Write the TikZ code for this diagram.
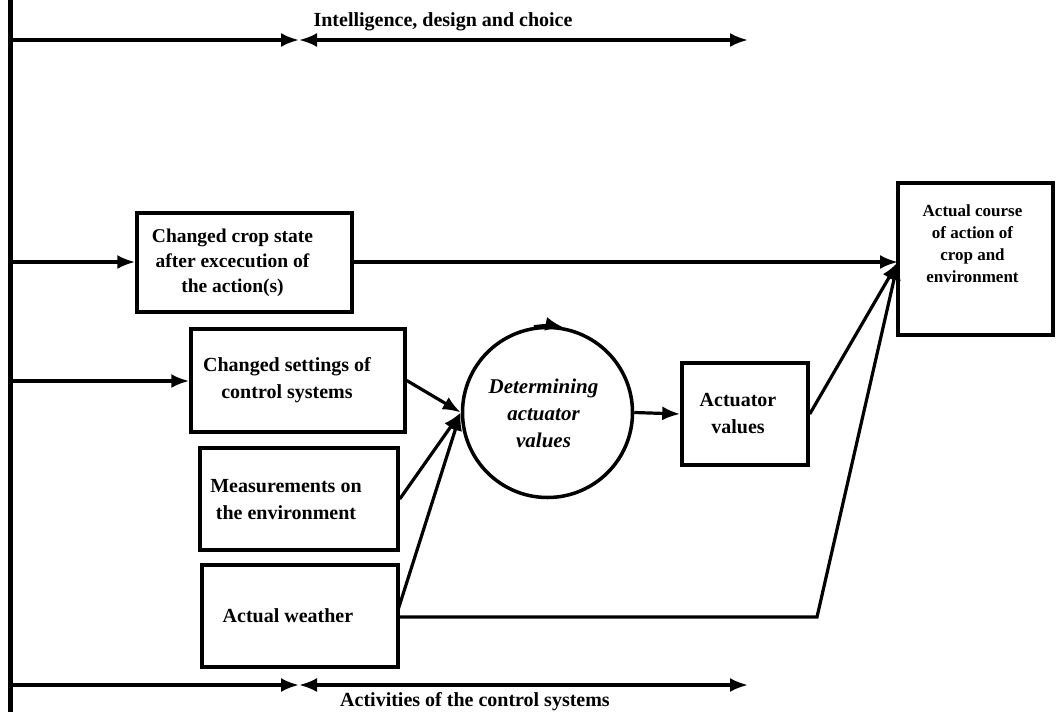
\documentclass[tikz,border=0pt]{standalone}
\usepackage{fontspec}
\setmainfont{Liberation Serif}
\usetikzlibrary{arrows.meta}
% centred lines of text, moved right by #1 and up by #2, taking no room of their own
\newcommand\celltext[3]{\raisebox{#2}[0pt][0pt]{\makebox[0pt]{\kern#1\begin{tabular}{@{}c@{}}#3\end{tabular}\kern-#1}}}
\begin{document}
\begin{tikzpicture}[x=1pt,y=-1pt,
  line/.style={line width=3.2pt},
  tip/.style={-{Latex[length=18pt,width=14pt]}},
  twotip/.style={{Latex[length=18pt,width=14pt]}-{Latex[length=18pt,width=14pt]}},
  box/.style={draw,line width=3.5pt,inner sep=0pt,
    font=\fontsize{20}{27}\selectfont\bfseries},
  lbl/.style={font=\fontsize{20}{24}\selectfont\bfseries}]
\useasboundingbox (0,0) rectangle (1057,712);

% time axis on the left
\coordinate (axtop) at (10,0);
\coordinate (axbot) at (10,712);
\draw[line width=5pt] (axtop) -- (axbot);

% phase arrows
\coordinate (t0) at (10,40);  \coordinate (t1) at (299,40);  \coordinate (t2) at (748,40);
\coordinate (b0) at (10,685); \coordinate (b1) at (299,685); \coordinate (b2) at (748,685);
\draw[line,tip] (t0) -- (t1);
\draw[line,twotip] (t1) -- (t2);
\draw[line,tip] (b0) -- (b1);
\draw[line,twotip] (b1) -- (b2);
\node[lbl] (tl) at (443,22) {Intelligence, design and choice};
\node[lbl] (bl) at (475,702) {Activities of the control systems};

% boxes
\node[box,minimum width=215pt,minimum height=99pt,
  font=\fontsize{19.5}{25}\selectfont\bfseries] (crop) at (244.5,262.5)
  {\celltext{-12pt}{-5.5pt}{Changed crop state\\after excecution of\\the action(s)}};
\node[box,minimum width=214pt,minimum height=103pt] (sett) at (298,380.5)
  {\celltext{-11pt}{-4.5pt}{Changed settings of\\control systems}};
\node[box,minimum width=198pt,minimum height=102pt] (meas) at (299,499)
  {\celltext{-13pt}{-6.5pt}{Measurements on\\the environment}};
\node[box,minimum width=196pt,minimum height=102pt] (wthr) at (300,616)
  {\celltext{-12pt}{-6pt}{Actual weather}};
\node[draw,circle,line width=3.5pt,minimum size=170pt,inner sep=0pt,
  font=\fontsize{21}{27}\selectfont\bfseries\itshape] (det) at (547.5,412.5)
  {\celltext{-4pt}{-7.5pt}{Determining\\actuator\\values}};
\node[box,minimum width=126pt,minimum height=102pt] (act) at (745,414)
  {\celltext{-7pt}{-6pt}{Actuator\\values}};
\node[box,minimum width=155pt,minimum height=152pt,
  font=\fontsize{17}{22}\selectfont\bfseries] (course) at (975.5,259)
  {\celltext{-3pt}{9.5pt}{Actual course\\of action of\\crop and\\environment}};

% direction of the cycle
\draw[line,tip] (det.99) arc[start angle=99, end angle=79, radius=85pt];

% inputs from the time axis
\coordinate (a1) at (10,262);
\coordinate (a2) at (10,381);
\draw[line,tip] (a1) -- (crop.west |- a1);
\draw[line,tip] (a2) -- (sett.west |- a2);

% flows into the actuator computation
\coordinate (wout) at (398,610);
\draw[line,tip] (sett.east) -- (det.west);
\draw[line,tip] (meas.east) -- (det.west);
\draw[line,tip] (wout) -- (det.west);
\draw[line,tip] (det.east) -- (act.west);

% flows into the actual course
\coordinate (cin) at (898,262);
\coordinate (wbend) at (817,617);
\draw[line,tip] (crop.east |- cin) -- (cin);
\draw[line,tip] (act.east) -- (cin);
\draw[line,tip] (wthr.east |- wbend) -- (wbend) -- (cin);
\end{tikzpicture}
\end{document}
